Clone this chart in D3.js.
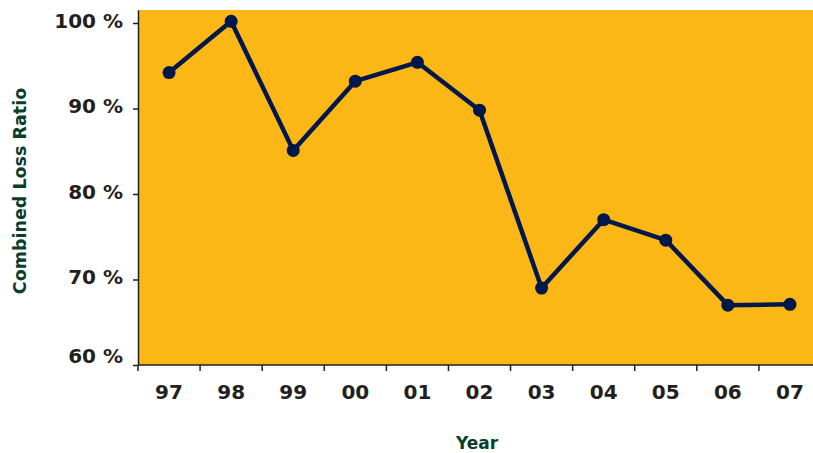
<!DOCTYPE html>
<html>
<head>
<meta charset="utf-8">
<script src="https://cdn.jsdelivr.net/npm/d3@7"></script>
<style>
  body { margin: 0; background: #fff; }
  svg { display: block; }
  .tick text { font-family: 'DejaVu Sans', sans-serif; font-weight: bold; fill: #231f20; }
  .title { font-family: 'DejaVu Sans', sans-serif; font-weight: bold; fill: #0b3d2c; }
</style>
</head>
<body>
<div id="chart"></div>
<script>
const years = ['97', '98', '99', '00', '01', '02', '03', '04', '05', '06', '07'];
const lossRatio = [94.2, 100.2, 85.1, 93.2, 95.4, 89.8, 69.0, 77.0, 74.6, 67.0, 67.1];
const yTicks = [60, 70, 80, 90, 100];

const W = 813, H = 453;
const margin = { top: 10, right: -8, bottom: 88, left: 138 };
const innerW = W - margin.left - margin.right;
const innerH = H - margin.top - margin.bottom;

const svg = d3.select('#chart')
  .append('svg')
  .attr('width', W)
  .attr('height', H);

const g = svg.append('g')
  .attr('transform', `translate(${margin.left},${margin.top})`);

const x = d3.scaleBand().domain(years).range([0, innerW]).padding(0);
const y = d3.scaleLinear().domain([60, 101.52]).range([innerH, 0]);

// plot background
g.append('rect')
  .attr('width', W - margin.left)
  .attr('height', innerH)
  .attr('fill', '#fbb716');

// y axis
const yAxis = g.append('g')
  .call(d3.axisLeft(y).tickValues(yTicks).tickSize(5).tickSizeOuter(0).tickPadding(10)
    .tickFormat(d => d + ' %'));
yAxis.select('.domain').attr('stroke', '#231f20').attr('stroke-width', 1.5);
yAxis.selectAll('.tick line').attr('stroke', '#231f20').attr('stroke-width', 1.5);
yAxis.selectAll('.tick text')
  .style('font-size', '20px')
  .attr('y', d => (d === 60 ? -9 : -2));

// x axis: labels at band centres
const xAxis = g.append('g')
  .attr('transform', `translate(0,${innerH})`)
  .call(d3.axisBottom(x).tickSize(0).tickPadding(20));
xAxis.select('.domain').remove();
xAxis.selectAll('.tick text').style('font-size', '20px');

// baseline + tick marks at band boundaries
g.append('line')
  .attr('x1', 0).attr('x2', W - margin.left)
  .attr('y1', innerH).attr('y2', innerH)
  .attr('stroke', '#231f20').attr('stroke-width', 1.5);

g.selectAll('.xtick')
  .data(years)
  .enter()
  .append('line')
  .attr('class', 'xtick')
  .attr('x1', d => x(d)).attr('x2', d => x(d))
  .attr('y1', innerH).attr('y2', innerH + 6)
  .attr('stroke', '#231f20').attr('stroke-width', 1.5);

// line
const line = d3.line()
  .x((d, i) => x(years[i]) + x.bandwidth() / 2)
  .y(d => y(d));

g.append('path')
  .datum(lossRatio)
  .attr('fill', 'none')
  .attr('stroke', '#00174a')
  .attr('stroke-width', 4.5)
  .attr('stroke-linejoin', 'round')
  .attr('d', line);

g.selectAll('.dot')
  .data(lossRatio)
  .enter()
  .append('circle')
  .attr('class', 'dot')
  .attr('cx', (d, i) => x(years[i]) + x.bandwidth() / 2)
  .attr('cy', d => y(d))
  .attr('r', 6.5)
  .attr('fill', '#00174a');

// axis titles
svg.append('text')
  .attr('class', 'title')
  .attr('transform', `translate(26,191) rotate(-90)`)
  .attr('text-anchor', 'middle')
  .style('font-size', '17.5px')
  .text('Combined Loss Ratio');

svg.append('text')
  .attr('class', 'title')
  .attr('x', 477)
  .attr('y', 449)
  .attr('text-anchor', 'middle')
  .style('font-size', '17px')
  .text('Year');
</script>
</body>
</html>
